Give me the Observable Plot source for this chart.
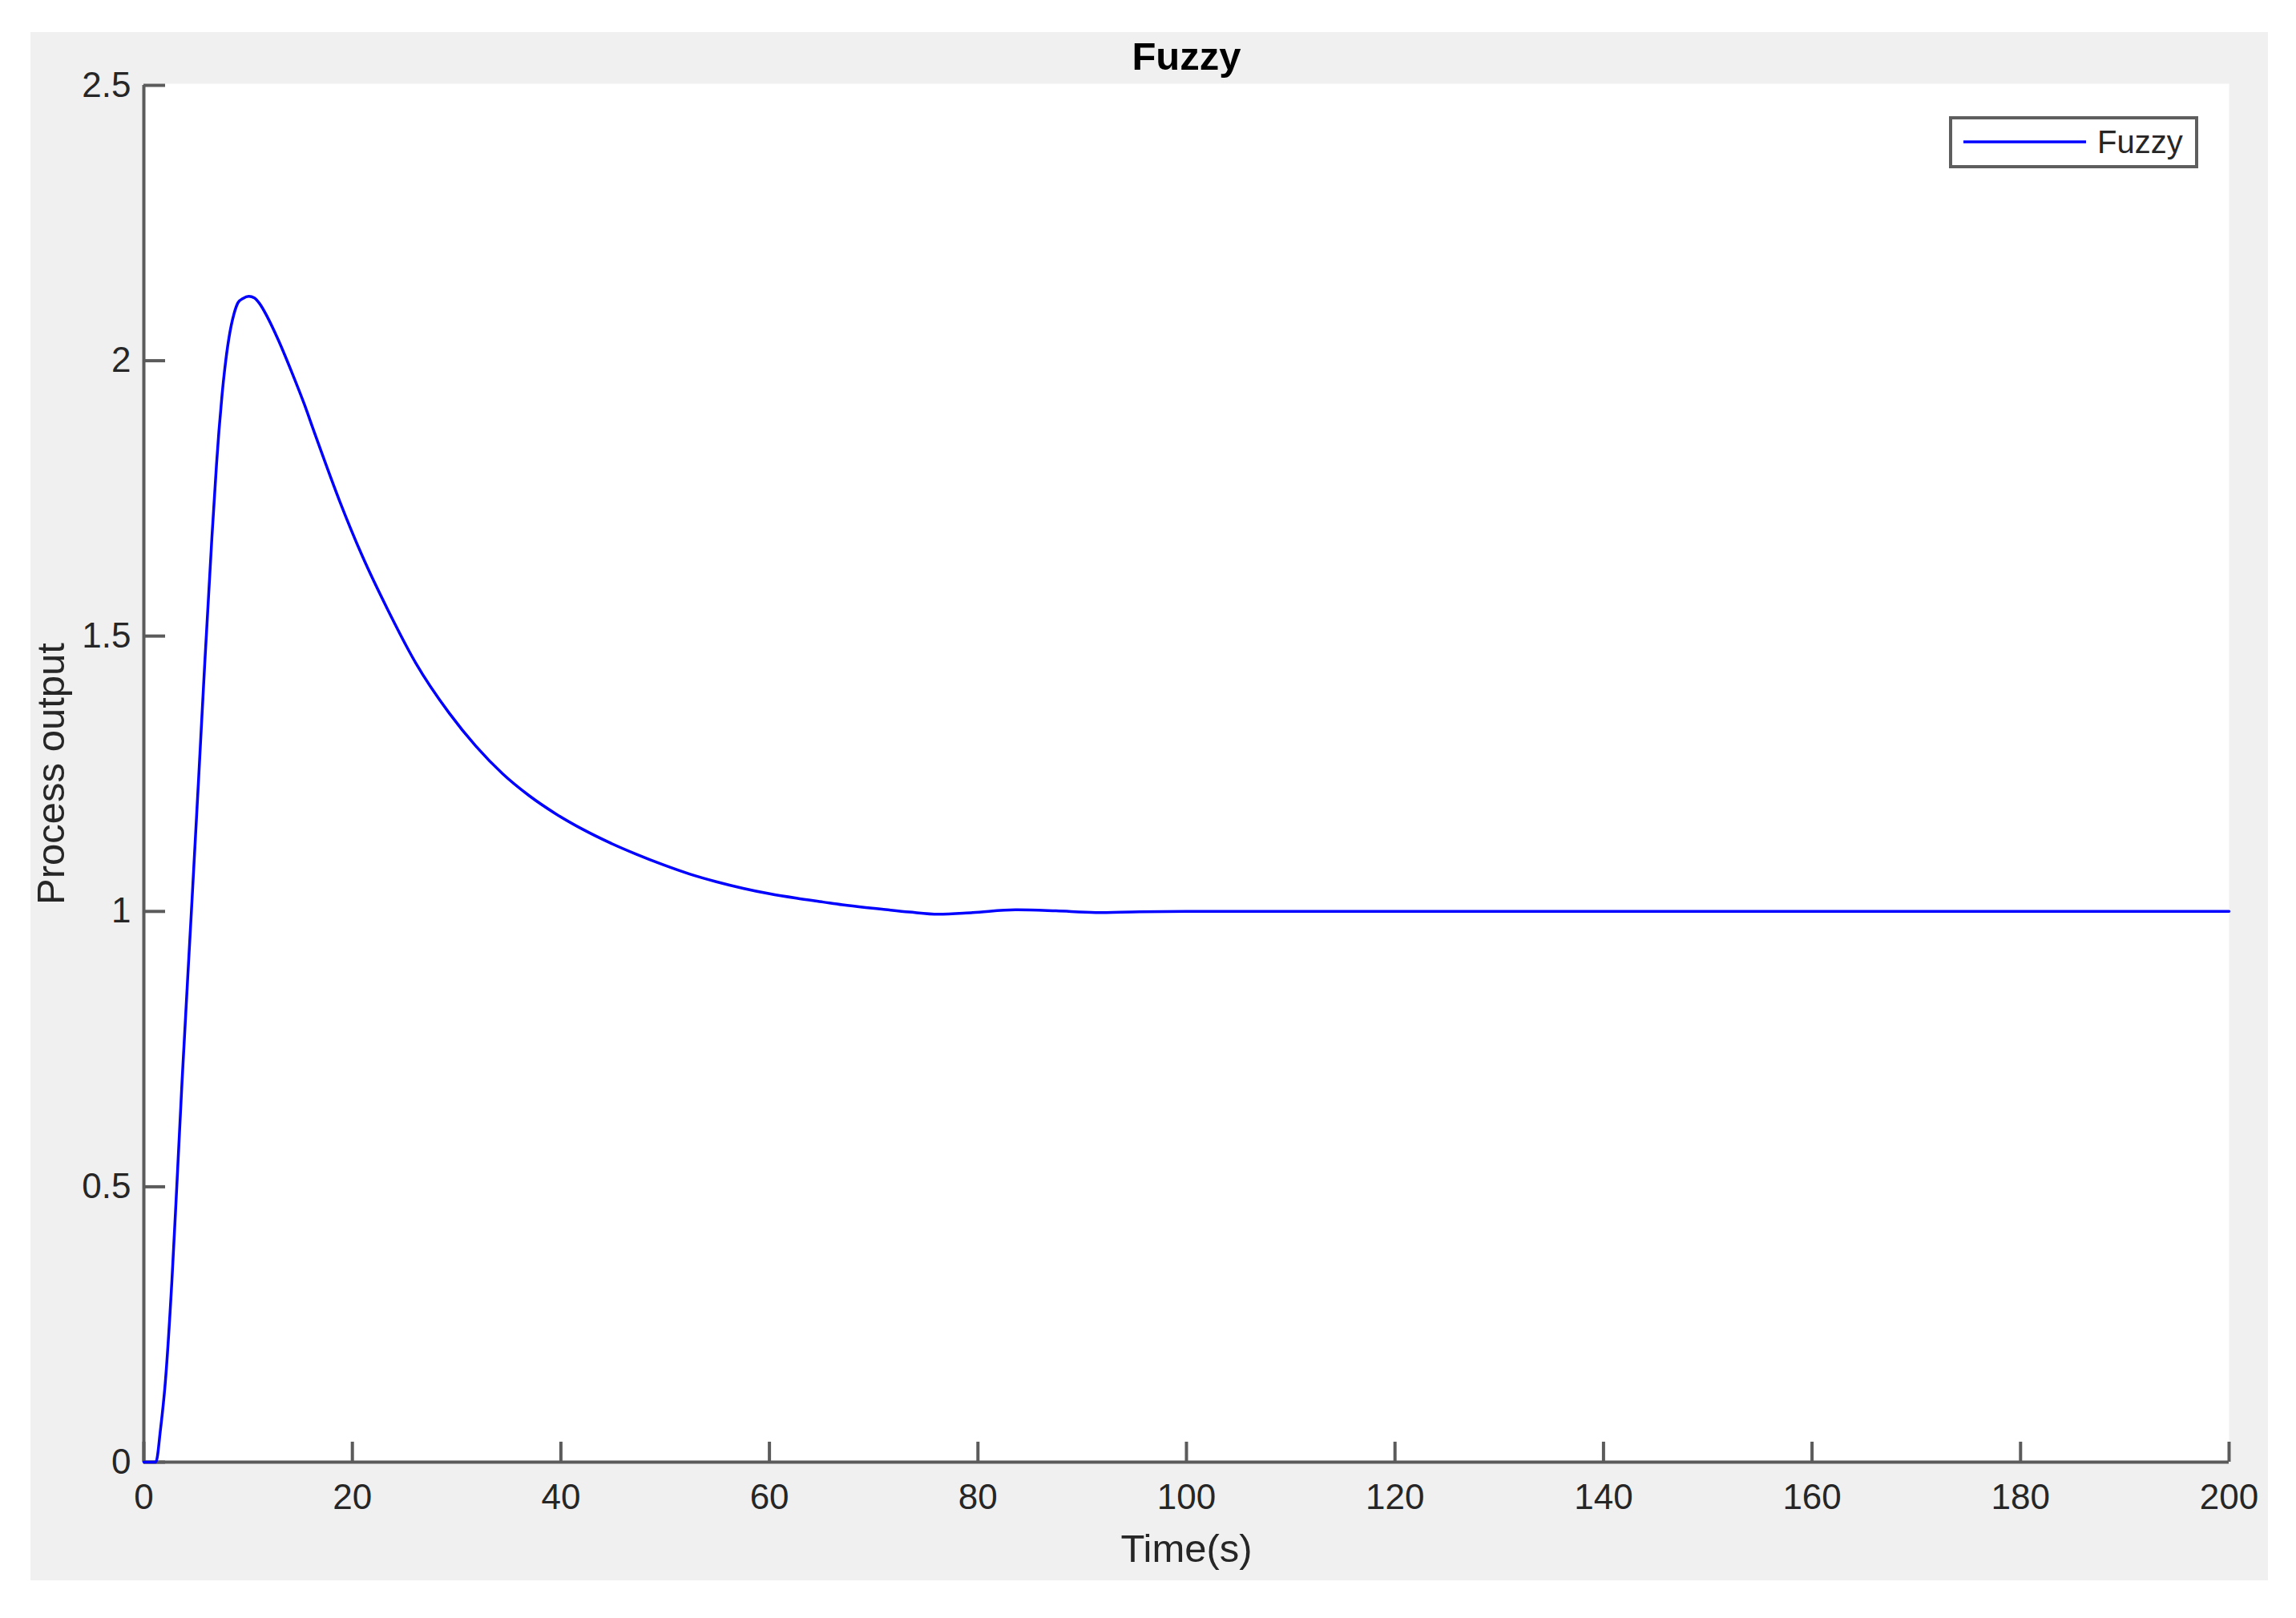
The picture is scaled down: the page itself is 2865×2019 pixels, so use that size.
<!DOCTYPE html>
<html><head><meta charset="utf-8">
<script src="https://cdn.jsdelivr.net/npm/d3@7"></script>
<script src="https://cdn.jsdelivr.net/npm/@observablehq/plot@0.6"></script>
<style>
html,body{margin:0;padding:0;background:#fff;}
#wrap{position:relative;width:2865px;height:2019px;}
#bg{position:absolute;left:38px;top:40px;width:2792px;height:1932px;background:#f0f0f0;}
#chart{position:absolute;left:0;top:0;}
</style></head><body>
<div id="wrap"><div id="bg"></div><div id="chart"></div></div>
<script>
// ---- data ----
const time = [0, 1.15, 1.6, 2.05, 2.69, 3.15, 3.66, 4.56, 5.25, 5.84, 6.53, 6.97, 7.2, 7.51, 7.76, 8.15, 8.66, 9.05, 9.5, 10.07, 10.6, 11.09, 11.86, 12.89, 14.17, 15.45, 16.22, 16.73, 18.78, 20.96, 23.39, 26.08, 29.29, 31.85, 34.41, 36.97, 39.53, 42.1, 44.66, 47.22, 49.78, 52.34, 54.9, 57.47, 60.03, 62.59, 65.16, 67.0, 69.25, 70.8, 73.4, 76.2, 79.5, 83.6, 87.5, 91.3, 95.5, 100, 110, 200];
const output = [0, 0, 0.06, 0.143, 0.329, 0.497, 0.69, 1.0, 1.24, 1.45, 1.68, 1.812, 1.872, 1.94, 1.985, 2.04, 2.086, 2.106, 2.113, 2.117, 2.114, 2.104, 2.079, 2.038, 1.98, 1.918, 1.877, 1.85, 1.745, 1.645, 1.548, 1.451, 1.36, 1.3, 1.25, 1.21, 1.177, 1.149, 1.125, 1.104, 1.085, 1.068, 1.054, 1.042, 1.032, 1.024, 1.017, 1.012, 1.007, 1.004, 0.999, 0.995, 0.998, 1.003, 1.001, 0.998, 0.9995, 1.0, 1.0, 1.0];
const xTicks = [0, 20, 40, 60, 80, 100, 120, 140, 160, 180, 200];
const yTicks = [0, 0.5, 1, 1.5, 2, 2.5];
const seriesName = "Fuzzy";
const titleText = "Fuzzy";
const xLabel = "Time(s)";
const yLabel = "Process output";

// ---- chart ----
const data = time.map((t, i) => ({t, v: output[i]}));
const W = 2865, H = 2019, mL = 179, mR = 84, mT = 106, mB = 195;
const axisColor = "#5b5b5b";
const textColor = "#262626";
const font = "'Liberation Sans', Arial, Helvetica, sans-serif";

const plot = Plot.plot({
  width: W, height: H,
  marginLeft: mL, marginRight: mR, marginTop: mT, marginBottom: mB,
  style: {background: "transparent", fontFamily: font, overflow: "visible"},
  x: {domain: [0, 200]},
  y: {domain: [0, 2.5]},
  marks: [
    Plot.frame({fill: "white", stroke: null, insetTop: -2}),
    Plot.axisX(xTicks, {tickSize: 0, tickPadding: 27, fontSize: 44, color: textColor, label: null, tickFormat: d => String(d)}),
    Plot.axisY(yTicks, {tickSize: 0, tickPadding: 16, fontSize: 44, color: textColor, label: null, tickFormat: d => String(d)}),
    Plot.tickX(xTicks, {x: d => d, stroke: axisColor, strokeWidth: 4, insetTop: (H - mT - mB) - 25}),
    Plot.tickY(yTicks, {y: d => d, stroke: axisColor, strokeWidth: 4, insetRight: (W - mL - mR) - 27}),
    Plot.ruleX([0], {stroke: axisColor, strokeWidth: 4}),
    Plot.ruleY([0], {stroke: axisColor, strokeWidth: 4}),
    Plot.line(data, {x: "t", y: "v", stroke: "#0000ff", strokeWidth: 3.5, curve: "monotone-x"}),
    Plot.text([titleText], {text: d => d, frameAnchor: "top", dy: -20, lineAnchor: "bottom", fontSize: 49, fontWeight: "bold", fill: "#000"}),
    Plot.text([xLabel], {text: d => d, frameAnchor: "bottom", dy: 124, lineAnchor: "bottom", fontSize: 49, fill: textColor}),
    Plot.text([yLabel], {text: d => d, frameAnchor: "left", textAnchor: "middle", dx: -115, rotate: -90, lineAnchor: "middle", fontSize: 49, fill: textColor})
  ]
});

// legend box (MATLAB style, top-right inside the axes)
const svg = d3.select(plot);
const lg = svg.append("g").attr("font-family", font);
lg.append("rect").attr("x", 2434).attr("y", 147).attr("width", 307).attr("height", 61)
  .attr("fill", "white").attr("stroke", "#5e5e5e").attr("stroke-width", 4);
lg.append("line").attr("x1", 2450).attr("x2", 2603).attr("y1", 177).attr("y2", 177)
  .attr("stroke", "#0000ff").attr("stroke-width", 3.5);
lg.append("text").attr("x", 2617).attr("y", 191).attr("font-size", 40)
  .attr("text-anchor", "start").attr("fill", textColor).text(seriesName);

document.getElementById("chart").appendChild(plot);
</script>
</body></html>
